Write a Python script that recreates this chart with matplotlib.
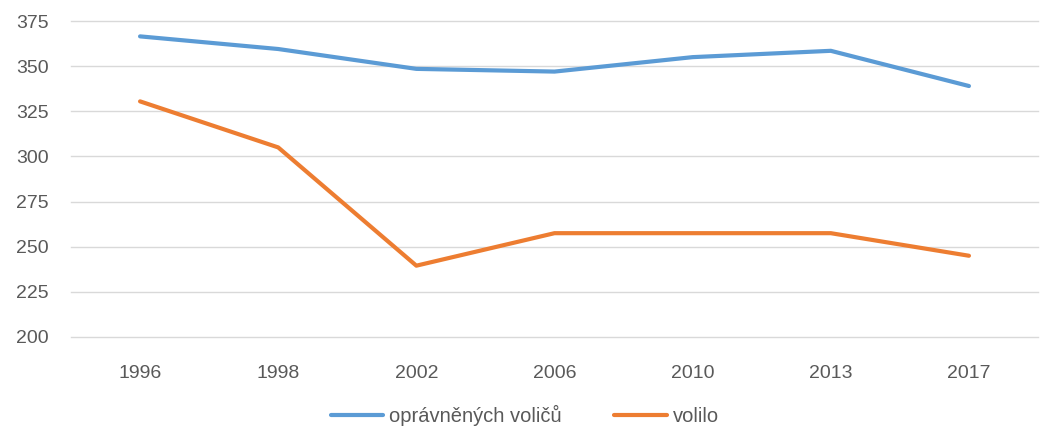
import matplotlib.pyplot as plt

years = ["1996", "1998", "2002", "2006", "2010", "2013", "2017"]
opravneni = [366.5, 359.5, 348.5, 347, 355, 358.5, 339]
volilo = [330.5, 305, 239.5, 257.5, 257.5, 257.5, 245]

plt.rcParams["font.family"] = ["Liberation Sans Narrow", "Liberation Sans", "DejaVu Sans"]

fig = plt.figure(figsize=(10.5, 4.38), dpi=100)
ax = fig.add_axes([0.0676, 0.2306, 0.9210, 0.7214])

x = range(len(years))
ax.plot(x, opravneni, color="#5B9BD5", lw=3, solid_capstyle="round",
        label="oprávněných voličů")
ax.plot(x, volilo, color="#ED7D31", lw=3, solid_capstyle="round",
        label="volilo")

ax.set_xlim(-0.5, len(years) - 0.5)
ax.set_ylim(200, 375)
ax.set_yticks(range(200, 376, 25))
ax.set_xticks(list(x))
ax.set_xticklabels(years)
ax.tick_params(length=0, labelsize=14, labelcolor="#595959")
ax.tick_params(axis="x", pad=20)
ax.tick_params(axis="y", pad=16)
for s in ax.spines.values():
    s.set_visible(False)
ax.grid(axis="y", color="#D9D9D9", lw=1)
for gl in ax.get_ygridlines():
    gl.set_clip_on(False)
ax.set_axisbelow(True)

fig.legend(loc="lower center", bbox_to_anchor=(0.5, -0.015), ncol=2,
           frameon=False, fontsize=14.5, labelcolor="#595959",
           handlelength=2.6, columnspacing=2.6, handletextpad=0.3)

fig.savefig("out.png", dpi=100)
